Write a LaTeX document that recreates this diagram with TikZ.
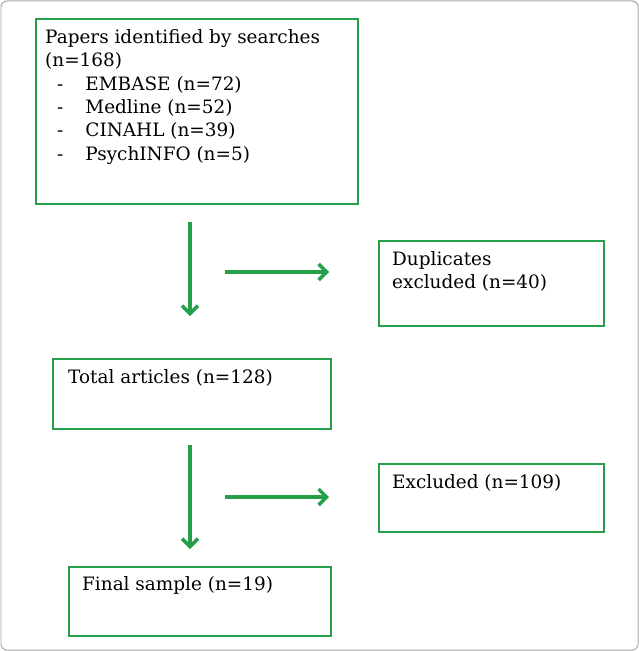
\documentclass[tikz,border=0pt]{standalone}
\usepackage{tikz}
\usepackage{fontspec}
\setmainfont{DejaVu Serif}
\usetikzlibrary{arrows.meta, positioning}
\definecolor{flowgreen}{RGB}{38,160,72}
\tikzset{box/.style={draw=flowgreen, line width=1.6pt, anchor=north west, inner sep=0pt},
  txt/.style={anchor=north west, align=left, inner sep=0pt, font=\fontsize{18.5}{23.5}\selectfont},
  flow/.style={draw=flowgreen, line width=3.4pt, -{Straight Barb[length=8pt,width=16pt]}}}
\begin{document}
\begin{tikzpicture}[x=1bp, y=-1bp]
  \draw[black!35, line width=1pt, rounded corners=6pt] (1,1) rectangle (638,650);
  \useasboundingbox (0,0) rectangle (639,651);
  % boxes
  \node[box, minimum width=322bp, minimum height=185bp] (papers) at (35,18) {};
  \node[box, minimum width=225bp, minimum height=85bp] (dupl) at (378,240) {};
  \node[box, minimum width=278bp, minimum height=70bp] (total) at (52,358) {};
  \node[box, minimum width=225bp, minimum height=68bp] (excl) at (378,463) {};
  \node[box, minimum width=262bp, minimum height=69bp] (final) at (68,566) {};
  % texts
  \node[txt] (paperstxt) at (45,29) {Papers identified by searches\\(n=168)\\
    \hspace*{12bp}-\hspace{22bp}EMBASE (n=72)\\
    \hspace*{12bp}-\hspace{22bp}Medline (n=52)\\
    \hspace*{12bp}-\hspace{22bp}CINAHL (n=39)\\
    \hspace*{12bp}-\hspace{22bp}PsychINFO (n=5)};
  \node[txt] (dupltxt) at (392,251) {Duplicates\\excluded (n=40)};
  \node[txt] (totaltxt) at (68,369) {Total articles (n=128)};
  \node[txt] (excltxt) at (392,474) {Excluded (n=109)};
  \node[txt] (finaltxt) at (82,576) {Final sample (n=19)};
  % arrows
  \coordinate (a1) at (190,222); \coordinate (b1) at (190,316);
  \coordinate (a2) at (225,272); \coordinate (b2) at (329,272);
  \coordinate (a3) at (190,445); \coordinate (b3) at (190,549);
  \coordinate (a4) at (225,497); \coordinate (b4) at (329,497);
  \draw[flow] (a1) -- (b1);
  \draw[flow] (a2) -- (b2);
  \draw[flow] (a3) -- (b3);
  \draw[flow] (a4) -- (b4);
\end{tikzpicture}
\end{document}
